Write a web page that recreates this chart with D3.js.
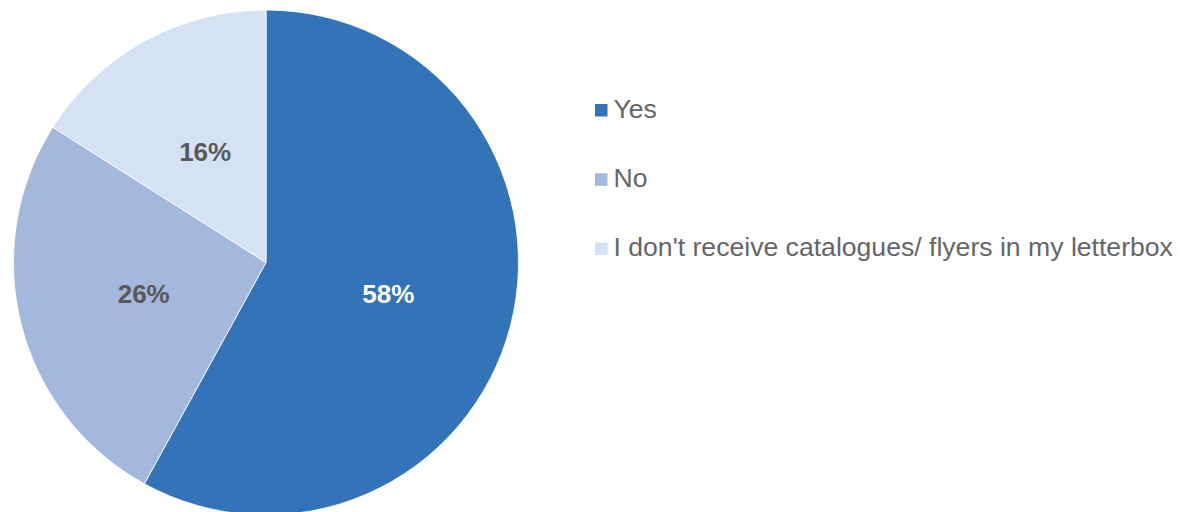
<!DOCTYPE html>
<html>
<head>
<meta charset="utf-8">
<script src="https://cdn.jsdelivr.net/npm/d3@7"></script>
<style>
  body { margin: 0; background: #fff; }
  svg { display: block; font-family: "Liberation Sans", Arial, sans-serif; }
</style>
</head>
<body>
<div id="chart"></div>
<script>
// answers and their shares (%)
var categories = ["Yes", "No", "I don't receive catalogues/ flyers in my letterbox"];
var values = [58, 26, 16];
var colours = ["#3373b8", "#a4b7dc", "#d6e2f3"];
var labelColours = ["#ffffff", "#595959", "#595959"];

var width = 1180, height = 512;
var cx = 266, cy = 262.5, radius = 252.5;

var svg = d3.select("#chart").append("svg")
  .attr("width", width)
  .attr("height", height);

var pie = d3.pie().sort(null).value(function(d){ return d.value });
var arcs = pie(categories.map(function(c, i){ return {name: c, value: values[i], i: i} }));

var arc = d3.arc().innerRadius(0).outerRadius(radius);
var labelArc = d3.arc().innerRadius(radius * 0.5).outerRadius(radius * 0.5);

var g = svg.append("g").attr("transform", "translate(" + cx + "," + cy + ")");

g.selectAll("path.slice").data(arcs).enter()
  .append("path").attr("class", "slice")
  .attr("d", arc)
  .attr("fill", function(d){ return colours[d.data.i] })
  .attr("stroke", "#ffffff")
  .attr("stroke-width", 0.8);

g.selectAll("text.lbl").data(arcs).enter()
  .append("text").attr("class", "lbl")
  .attr("x", function(d){ return labelArc.centroid(d)[0] })
  .attr("y", function(d){ return labelArc.centroid(d)[1] })
  .attr("dy", "0.36em")
  .attr("text-anchor", "middle")
  .style("font-size", "26px")
  .style("font-weight", "bold")
  .attr("fill", function(d){ return labelColours[d.data.i] })
  .text(function(d){ return d.data.value + "%" });

// legend
var legendY = d3.scalePoint().domain(categories).range([110, 248.5]);

var legend = svg.append("g").selectAll("g").data(categories).enter()
  .append("g")
  .attr("transform", function(d){ return "translate(595," + legendY(d) + ")" });

legend.append("rect")
  .attr("x", 0).attr("y", -6)
  .attr("width", 12.5).attr("height", 12.5)
  .attr("fill", function(d, i){ return colours[i] });

legend.append("text")
  .attr("x", 18.5).attr("y", 0)
  .attr("dy", "0.3em")
  .style("font-size", "26.6px")
  .attr("fill", "#666666")
  .text(function(d){ return d });
</script>
</body>
</html>
